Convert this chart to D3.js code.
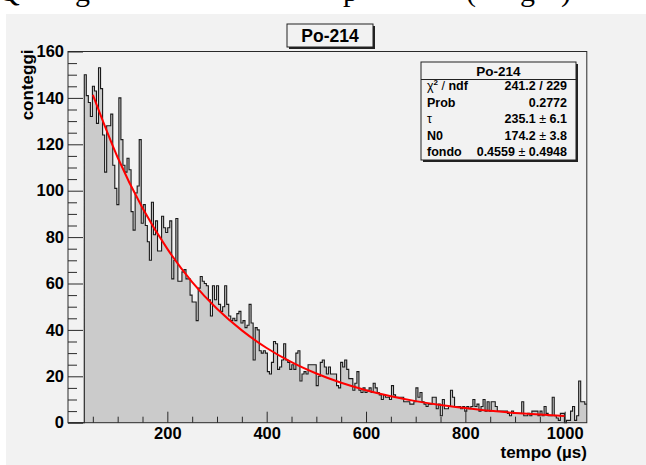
<!DOCTYPE html>
<html><head><meta charset="utf-8">
<script src="https://cdn.jsdelivr.net/npm/d3@7"></script>
<style>body{margin:0;background:#fff}svg{display:block}</style>
</head><body><svg id="c" width="646" height="465"></svg>
<script>
// ---- data ----
const histTitle = "Po-214";
const xTitle = "tempo (\u00b5s)";
const yTitle = "conteggi";
const binWidth = 4.096;      // µs per bin
const xMax = 1044.48;
const yMax = 160;
const counts = [
  0,0,0,0,0,0,0,0,
  150,141,138,132,145,143,129,153,144,124,108,128,128,133,111,101,94,140,122,111,108,114,109,91,83,99,102,122,86,94,85,78,70,
  95,81,87,74,74,89,84,82,84,87,62,70,88,61,61,65,66,62,62,55,52,52,44,58,63,61,60,59,53,46,59,53,59,51,48,50,59,51,46,44,45,44,47,48,43,44,41,42,
  51,43,27,41,40,31,30,31,30,22,21,26,35,34,23,24,27,34,27,26,23,25,23,30,31,18,21,22,21,25,25,25,25,16,20,26,27,24,21,24,21,21,21,16,15,26,24,27,23,19,19,14,17,22,14,13,
  15,13,14,15,13,17,15,13,12,10,12,11,11,10,16,12,11,11,11,11,9,9,9,8,8,9,15,11,13,9,8,7,8,
  8,11,11,6,8,3,10,6,6,7,14,11,7,7,7,6,7,5,7,6,7,10,7,8,5,7,10,5,9,5,9,9,7,5,5,5,5,5,4,3,5,4,4,4,4,9,3,3,4,3,5,5,5,3,5,3,7,4,3,3,11,3,2,1,4,4,0,1,1,5,7,1,3,18,9,9,8
];
// fit curve (t in µs, counts)
const fitT = [50,100,150,200,250,300,350,400,450,500,550,600,650,700,750,800,850,900,950,1000];
const fitV = [141.3,114.3,92.5,74.9,60.6,49.1,39.8,32.2,26.1,21.2,17.2,14.0,11.4,9.3,7.6,6.3,5.1,4.2,3.5,2.9];
const xMajorTicks = [200,400,600,800,1000];
const xMinorTicks = [50,100,150,250,300,350,450,500,550,650,700,750,850,900,950];
const yMajorTicks = [0,20,40,60,80,100,120,140,160];
const yMinorTicks = [5,10,15,25,30,35,45,50,55,65,70,75,85,90,95,105,110,115,125,130,135,145,150,155];
const statsHeader = "Po-214";
const statsLabels = ["\u03c7\u00b2 / ndf","Prob","\u03c4","N0","fondo"];
const statsValues = ["241.2 / 229","0.2772","235.1 \u00b1 6.1","174.2 \u00b1 3.8","0.4559 \u00b1 0.4948"];
const topFragments = ["Q","g","p","(","g",")"];
const topFragmentX = [-2,75,343,466,520,561];

// ---- layout ----
const W = 646, H = 465;
const fx0 = 68, fx1 = 586.8, fy0 = 51.5, fy1 = 422.7;
const font = "'Liberation Sans', Arial, Helvetica, sans-serif";
const bg = "#f2f2f2";

const svg = d3.select("#c");
svg.append("rect").attr("width",W).attr("height",H).attr("fill","#fff");
// cut document text above the canvas
svg.append("g").selectAll("text").data(topFragments).join("text")
  .attr("x",(d,i)=>topFragmentX[i]).attr("y",1)
  .attr("font-family","'Liberation Serif','Times New Roman',serif").attr("font-size",30)
  .attr("fill","#000").text(d=>d);
svg.append("rect").attr("x",6).attr("y",14).attr("width",W-6).attr("height",H-14).attr("fill",bg);

const x = d3.scaleLinear().domain([0,xMax]).range([fx0,fx1]);
const y = d3.scaleLinear().domain([0,yMax]).range([fy1,fy0]);

// histogram
const pts = counts.map((c,i)=>[i*binWidth,c]);
pts.push([counts.length*binWidth,counts[counts.length-1]]);
svg.append("path").datum(pts)
  .attr("d",d3.area().x(d=>x(d[0])).y0(y(0)).y1(d=>y(d[1])).curve(d3.curveStepAfter))
  .attr("fill","#cbcbcb");
svg.append("path").datum(pts)
  .attr("d",d3.line().x(d=>x(d[0])).y(d=>y(d[1])).curve(d3.curveStepAfter))
  .attr("fill","none").attr("stroke","#1a1a1a").attr("stroke-width",1.1);

// fit
svg.append("path").datum(fitT.map((t,i)=>[t,fitV[i]]))
  .attr("d",d3.line().x(d=>x(d[0])).y(d=>y(d[1])).curve(d3.curveMonotoneX))
  .attr("fill","none").attr("stroke","#ff0000").attr("stroke-width",2);

// frame
svg.append("rect").attr("x",fx0).attr("y",fy0).attr("width",fx1-fx0).attr("height",fy1-fy0)
  .attr("fill","none").attr("stroke","#2a2a2a").attr("stroke-width",1);

// axes
function styleAxis(g){
  g.select(".domain").remove();
  g.selectAll(".tick line").attr("stroke","#2a2a2a").attr("stroke-width",1);
  g.selectAll(".tick text").attr("font-family",font).attr("font-weight","bold")
    .attr("font-size",16.5).attr("fill","#000");
}
svg.append("g").attr("transform",`translate(0,${fy1})`)
  .call(d3.axisBottom(x).tickValues(xMajorTicks).tickSize(-11).tickPadding(5).tickFormat(d3.format("d")))
  .call(styleAxis);
svg.append("g").attr("transform",`translate(0,${fy1})`)
  .call(d3.axisBottom(x).tickValues(xMinorTicks).tickSize(-6).tickFormat(""))
  .call(styleAxis);
svg.append("g").attr("transform",`translate(${fx0},0)`)
  .call(d3.axisLeft(y).tickValues(yMajorTicks).tickSize(-15).tickPadding(4).tickFormat(d3.format("d")))
  .call(styleAxis);
svg.append("g").attr("transform",`translate(${fx0},0)`)
  .call(d3.axisLeft(y).tickValues(yMinorTicks).tickSize(-9).tickFormat(""))
  .call(styleAxis);

// axis titles
svg.append("text").attr("x",fx1).attr("y",458).attr("text-anchor","end")
  .attr("font-family",font).attr("font-weight","bold").attr("font-size",17).text(xTitle);
svg.append("text").attr("transform",`translate(33,${fy0-2}) rotate(-90)`).attr("text-anchor","end")
  .attr("font-family",font).attr("font-weight","bold").attr("font-size",17).text(yTitle);

// title box
const tb = {x:287,y:24,w:86,h:23};
svg.append("rect").attr("x",tb.x+2).attr("y",tb.y+2).attr("width",tb.w).attr("height",tb.h).attr("fill","#222");
svg.append("rect").attr("x",tb.x).attr("y",tb.y).attr("width",tb.w).attr("height",tb.h)
  .attr("fill",bg).attr("stroke","#222").attr("stroke-width",1);
svg.append("text").attr("x",tb.x+tb.w/2).attr("y",tb.y+18).attr("text-anchor","middle")
  .attr("font-family",font).attr("font-weight","bold").attr("font-size",17.5).text(histTitle);

// stats box
const sb = {x:421,y:62,w:155,h:98};
svg.append("rect").attr("x",sb.x+2).attr("y",sb.y+2).attr("width",sb.w).attr("height",sb.h).attr("fill","#222");
svg.append("rect").attr("x",sb.x).attr("y",sb.y).attr("width",sb.w).attr("height",sb.h)
  .attr("fill",bg).attr("stroke","#222").attr("stroke-width",1);
svg.append("line").attr("x1",sb.x).attr("x2",sb.x+sb.w).attr("y1",79.5).attr("y2",79.5)
  .attr("stroke","#222").attr("stroke-width",1);
svg.append("text").attr("x",sb.x+sb.w/2).attr("y",76).attr("text-anchor","middle")
  .attr("font-family",font).attr("font-weight","bold").attr("font-size",13.5).text(statsHeader);
const rowY = d3.scaleLinear().domain([0,1]).range([90,106.5]);
const lab = svg.append("g").selectAll("text").data(statsLabels).join("text")
  .attr("x",sb.x+6).attr("y",(d,i)=>rowY(i))
  .attr("font-family",font).attr("font-weight","bold").attr("font-size",12.5);
lab.each(function(d){
  const t = d3.select(this);
  if(d.startsWith("\u03c7")){
    t.append("tspan").attr("font-weight","normal").text("\u03c7");
    t.append("tspan").attr("font-size",8).attr("dy",-5).text("2");
    t.append("tspan").attr("dy",5).attr("font-weight","normal").text(" / ");
    t.append("tspan").text("ndf");
  } else if(d==="\u03c4"){
    t.append("tspan").attr("font-weight","normal").text(d);
  } else t.text(d);
});
svg.append("g").selectAll("text").data(statsValues).join("text")
  .attr("x",sb.x+sb.w-9).attr("y",(d,i)=>rowY(i)).attr("text-anchor","end")
  .attr("font-family",font).attr("font-weight","bold").attr("font-size",12.5)
  .each(function(d){
    const t=d3.select(this);
    const parts=d.split("\u00b1");
    if(parts.length===2){
      t.append("tspan").text(parts[0]);
      t.append("tspan").attr("font-weight","normal").text("\u00b1");
      t.append("tspan").text(parts[1]);
    } else t.text(d);
  });
</script></body></html>
